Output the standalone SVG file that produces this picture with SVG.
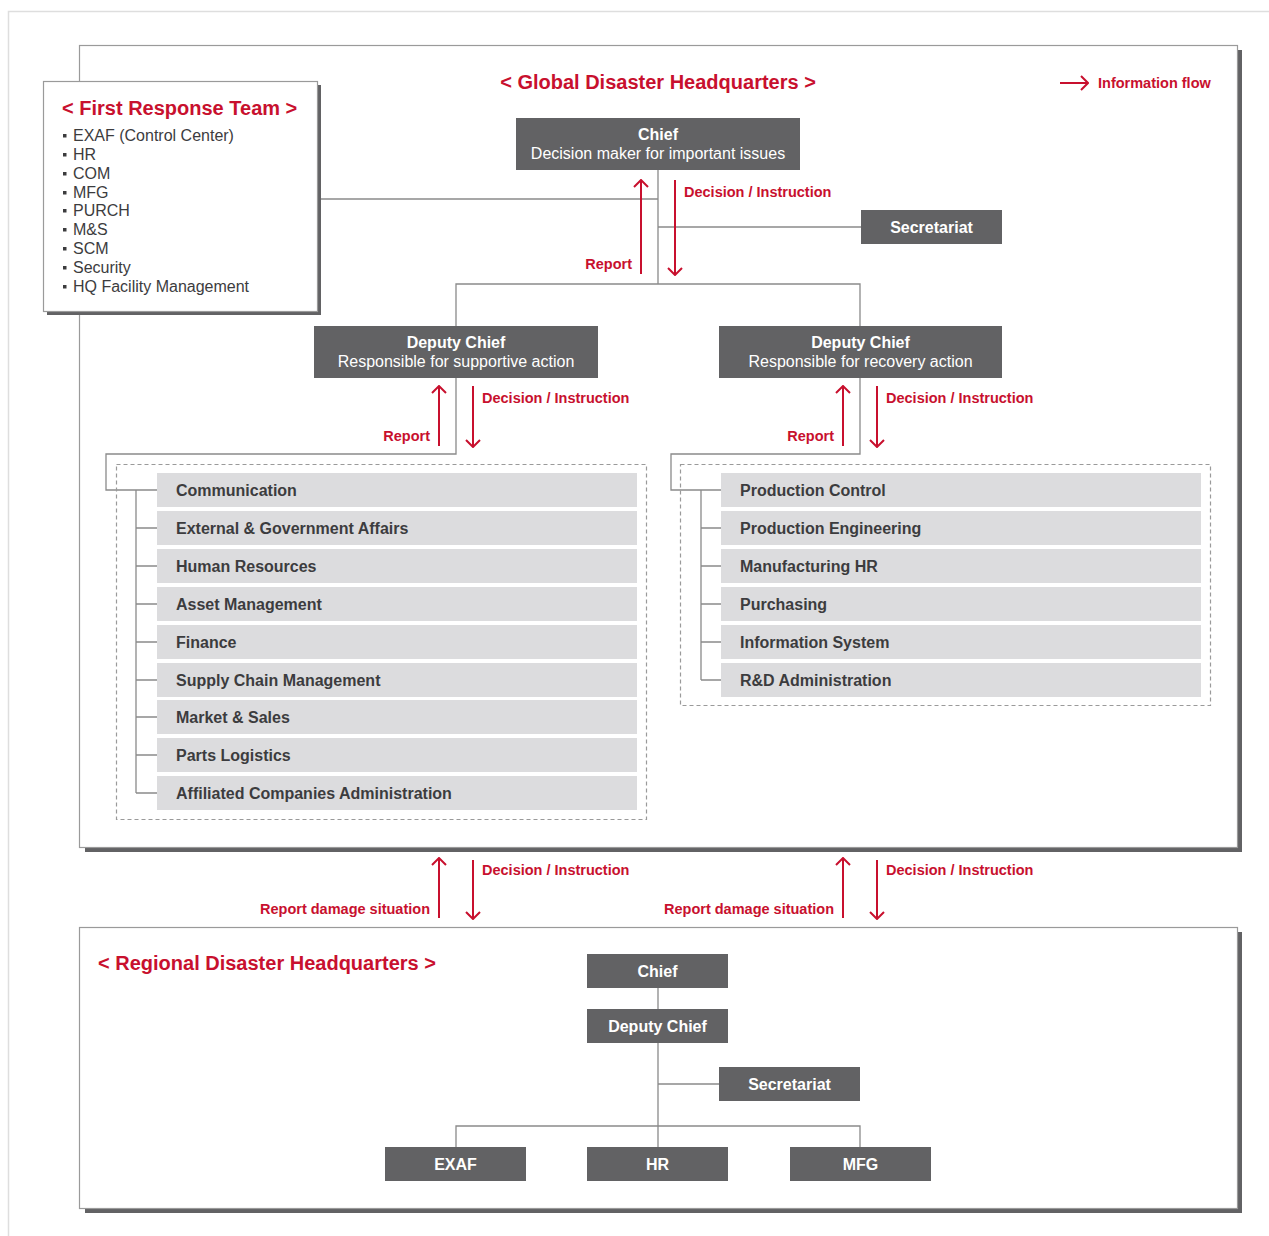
<svg xmlns="http://www.w3.org/2000/svg" width="1269" height="1236" viewBox="0 0 1269 1236">
<defs>
<style>
.frame{fill:#fff;stroke:#9a9a9a;stroke-width:1.2}
.shadow{fill:#626264}
.dark{fill:#626264}
.bar{fill:#dcdcde}
.wt{font-family:"Liberation Sans",Arial,sans-serif;fill:#fff;text-anchor:middle}
.wtb{font-weight:bold;font-size:16px}
.wtr{font-size:16px}
.bt{font-family:"Liberation Sans",Arial,sans-serif;font-weight:bold;font-size:16px;fill:#3c3c3e}
.lt{font-family:"Liberation Sans",Arial,sans-serif;font-size:16px;fill:#3c3c3e}
.red{font-family:"Liberation Sans",Arial,sans-serif;font-weight:bold;font-size:14.5px;fill:#c8102e}
.title{font-family:"Liberation Sans",Arial,sans-serif;font-weight:bold;font-size:20px;fill:#c8102e}
.ln{fill:none;stroke:#8a8a8a;stroke-width:1.3}
.dash{fill:none;stroke:#9a9a9a;stroke-width:1.2;stroke-dasharray:4 3}
.arr{fill:none;stroke:#c8102e;stroke-width:2;marker-end:url(#ah)}
</style>
<marker id="ah" viewBox="-9 -8 10 16" refX="0" refY="0" markerWidth="10" markerHeight="16" markerUnits="userSpaceOnUse" orient="auto">
<path d="M-7,-7 L0,0 L-7,7" fill="none" stroke="#c8102e" stroke-width="2"/>
</marker>
</defs>
<rect width="1269" height="1236" fill="#fff"/>
<path d="M8.5,1236 V11.5 H1269" fill="none" stroke="#dedede" stroke-width="1.5"/>

<g id="global-frame">
<rect class="shadow" x="85" y="847" width="1157" height="5"/>
<rect class="shadow" x="1238" y="50" width="4" height="802"/>
<rect class="frame" x="79.5" y="45.5" width="1158" height="802"/>
<text class="title" x="658" y="89" text-anchor="middle">&lt; Global Disaster Headquarters &gt;</text>
</g>

<g id="regional-frame">
<rect class="shadow" x="85" y="1208" width="1157" height="5"/>
<rect class="shadow" x="1238" y="932" width="4" height="281"/>
<rect class="frame" x="79.5" y="927.5" width="1158" height="281"/>
<text class="title" x="98" y="970">&lt; Regional Disaster Headquarters &gt;</text>
</g>

<g id="connectors">
<path class="ln" d="M658,170 V284 M321,199 H658 M658,227 H861 M456,326 V284 H860 V326"/>
<path class="ln" d="M456,378 V454 H106 V490 H157 M136,490 V793 M136,528 H157 M136,566 H157 M136,604 H157 M136,642 H157 M136,680 H157 M136,717 H157 M136,755 H157 M136,793 H157"/>
<path class="ln" d="M860,378 V454 H671 V490 H721 M701,490 V680 M701,528 H721 M701,566 H721 M701,604 H721 M701,642 H721 M701,680 H721"/>
<path class="ln" d="M658,988 V1009 M658,1043 V1147 M658,1084 H719 M456,1147 V1126 H860 V1147"/>
<path class="arr" d="M1060,83 H1088"/>
<path class="arr" d="M641,274 V180"/>
<path class="arr" d="M675,180 V275"/>
<path class="arr" d="M439,446 V386"/>
<path class="arr" d="M473,386 V447"/>
<path class="arr" d="M843,446 V386"/>
<path class="arr" d="M877,386 V447"/>
<path class="arr" d="M439,918 V858"/>
<path class="arr" d="M473,860 V919"/>
<path class="arr" d="M843,918 V858"/>
<path class="arr" d="M877,860 V919"/>
</g>

<g id="labels">
<text class="red" x="1098" y="88">Information flow</text>
<text class="red" x="684" y="197">Decision / Instruction</text>
<text class="red" x="632" y="269" text-anchor="end">Report</text>
<text class="red" x="482" y="403">Decision / Instruction</text>
<text class="red" x="430" y="441" text-anchor="end">Report</text>
<text class="red" x="886" y="403">Decision / Instruction</text>
<text class="red" x="834" y="441" text-anchor="end">Report</text>
<text class="red" x="482" y="875">Decision / Instruction</text>
<text class="red" x="430" y="914" text-anchor="end">Report damage situation</text>
<text class="red" x="886" y="875">Decision / Instruction</text>
<text class="red" x="834" y="914" text-anchor="end">Report damage situation</text>
</g>

<g id="first-response-team">
<rect class="shadow" x="47" y="311" width="274" height="4"/>
<rect class="shadow" x="317" y="85" width="4" height="230"/>
<rect class="frame" x="43.5" y="81.5" width="274" height="230"/>
<text class="title" x="62" y="115">&lt; First Response Team &gt;</text>
<g fill="#3c3c3e">
<rect x="63" y="134" width="3.5" height="3.5"/>
<rect x="63" y="153" width="3.5" height="3.5"/>
<rect x="63" y="172" width="3.5" height="3.5"/>
<rect x="63" y="191" width="3.5" height="3.5"/>
<rect x="63" y="209" width="3.5" height="3.5"/>
<rect x="63" y="228" width="3.5" height="3.5"/>
<rect x="63" y="247" width="3.5" height="3.5"/>
<rect x="63" y="266" width="3.5" height="3.5"/>
<rect x="63" y="285" width="3.5" height="3.5"/>
</g>
<text class="lt" x="73" y="141">EXAF (Control Center)</text>
<text class="lt" x="73" y="160">HR</text>
<text class="lt" x="73" y="179">COM</text>
<text class="lt" x="73" y="198">MFG</text>
<text class="lt" x="73" y="216">PURCH</text>
<text class="lt" x="73" y="235">M&amp;S</text>
<text class="lt" x="73" y="254">SCM</text>
<text class="lt" x="73" y="273">Security</text>
<text class="lt" x="73" y="292">HQ Facility Management</text>
</g>

<g id="chief">
<rect class="dark" x="516" y="118" width="284" height="52"/>
<text class="wt wtb" x="658" y="140">Chief</text>
<text class="wt wtr" x="658" y="159">Decision maker for important issues</text>
</g>
<g id="secretariat">
<rect class="dark" x="861" y="210" width="141" height="34"/>
<text class="wt wtb" x="931.5" y="233">Secretariat</text>
</g>
<g id="deputy-support">
<rect class="dark" x="314" y="326" width="284" height="52"/>
<text class="wt wtb" x="456" y="348">Deputy Chief</text>
<text class="wt wtr" x="456" y="367">Responsible for supportive action</text>
</g>
<g id="deputy-recovery">
<rect class="dark" x="719" y="326" width="283" height="52"/>
<text class="wt wtb" x="860.5" y="348">Deputy Chief</text>
<text class="wt wtr" x="860.5" y="367">Responsible for recovery action</text>
</g>

<g id="support-group">
<rect class="dash" x="116.5" y="464.5" width="530" height="355"/>
<rect class="bar" x="157" y="473" width="480" height="34"/><text class="bt" x="176" y="496">Communication</text>
<rect class="bar" x="157" y="511" width="480" height="34"/><text class="bt" x="176" y="534">External &amp; Government Affairs</text>
<rect class="bar" x="157" y="549" width="480" height="34"/><text class="bt" x="176" y="572">Human Resources</text>
<rect class="bar" x="157" y="587" width="480" height="34"/><text class="bt" x="176" y="610">Asset Management</text>
<rect class="bar" x="157" y="625" width="480" height="34"/><text class="bt" x="176" y="648">Finance</text>
<rect class="bar" x="157" y="663" width="480" height="34"/><text class="bt" x="176" y="686">Supply Chain Management</text>
<rect class="bar" x="157" y="700" width="480" height="34"/><text class="bt" x="176" y="723">Market &amp; Sales</text>
<rect class="bar" x="157" y="738" width="480" height="34"/><text class="bt" x="176" y="761">Parts Logistics</text>
<rect class="bar" x="157" y="776" width="480" height="34"/><text class="bt" x="176" y="799">Affiliated Companies Administration</text>
</g>

<g id="recovery-group">
<rect class="dash" x="680.5" y="464.5" width="530" height="241"/>
<rect class="bar" x="721" y="473" width="480" height="34"/><text class="bt" x="740" y="496">Production Control</text>
<rect class="bar" x="721" y="511" width="480" height="34"/><text class="bt" x="740" y="534">Production Engineering</text>
<rect class="bar" x="721" y="549" width="480" height="34"/><text class="bt" x="740" y="572">Manufacturing HR</text>
<rect class="bar" x="721" y="587" width="480" height="34"/><text class="bt" x="740" y="610">Purchasing</text>
<rect class="bar" x="721" y="625" width="480" height="34"/><text class="bt" x="740" y="648">Information System</text>
<rect class="bar" x="721" y="663" width="480" height="34"/><text class="bt" x="740" y="686">R&amp;D Administration</text>
</g>

<g id="reg-chief">
<rect class="dark" x="587" y="954" width="141" height="34"/>
<text class="wt wtb" x="657.5" y="977">Chief</text>
</g>
<g id="reg-deputy">
<rect class="dark" x="587" y="1009" width="141" height="34"/>
<text class="wt wtb" x="657.5" y="1032">Deputy Chief</text>
</g>
<g id="reg-secretariat">
<rect class="dark" x="719" y="1067" width="141" height="34"/>
<text class="wt wtb" x="789.5" y="1090">Secretariat</text>
</g>
<g id="reg-exaf">
<rect class="dark" x="385" y="1147" width="141" height="34"/>
<text class="wt wtb" x="455.5" y="1170">EXAF</text>
</g>
<g id="reg-hr">
<rect class="dark" x="587" y="1147" width="141" height="34"/>
<text class="wt wtb" x="657.5" y="1170">HR</text>
</g>
<g id="reg-mfg">
<rect class="dark" x="790" y="1147" width="141" height="34"/>
<text class="wt wtb" x="860.5" y="1170">MFG</text>
</g>
</svg>
